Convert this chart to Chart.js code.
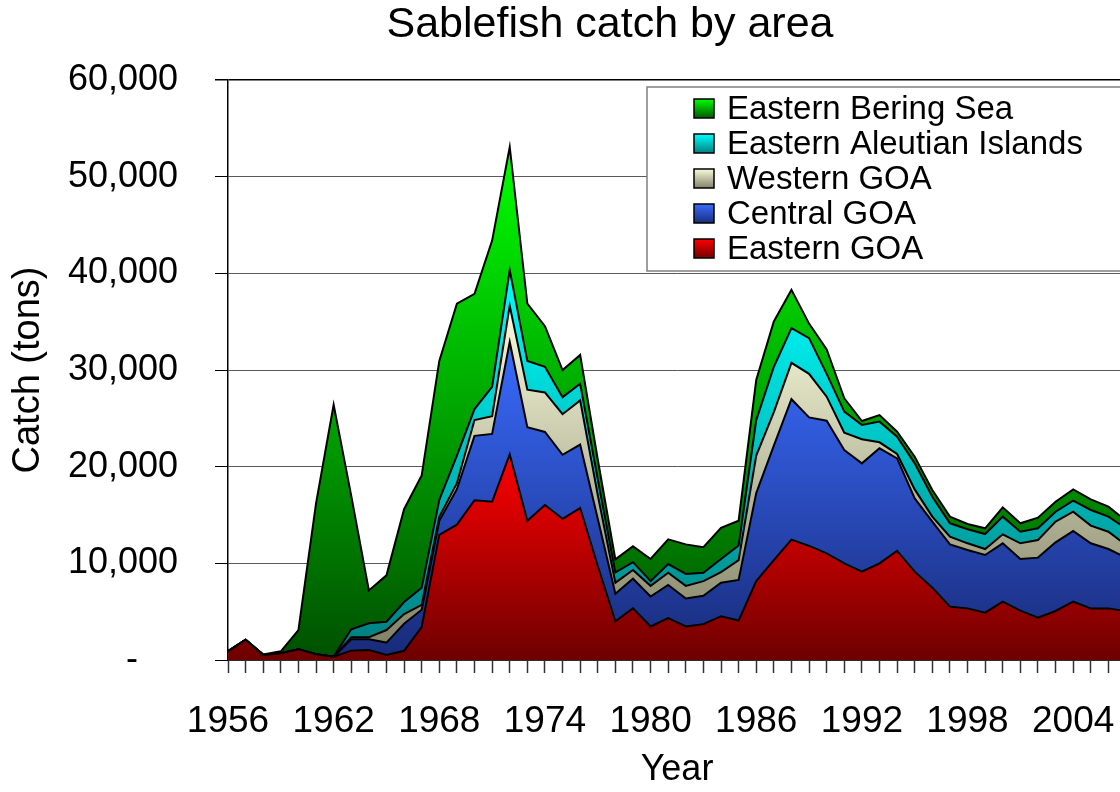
<!DOCTYPE html>
<html>
<head>
<meta charset="utf-8">
<title>Sablefish catch by area</title>
<script src="https://cdn.jsdelivr.net/npm/chart.js@4.4.1/dist/chart.umd.min.js"></script>
<style>
  html, body { margin: 0; padding: 0; background: #fff; overflow: hidden; }
  #wrap { width: 1220px; height: 792px; }
</style>
</head>
<body>
<div id="wrap"><canvas id="catchChart"></canvas></div>
<script>
const chartTitle = "Sablefish catch by area";

// Years on the x axis
const years = [1956, 1957, 1958, 1959, 1960, 1961, 1962, 1963, 1964, 1965,
  1966, 1967, 1968, 1969, 1970, 1971, 1972, 1973, 1974, 1975,
  1976, 1977, 1978, 1979, 1980, 1981, 1982, 1983, 1984, 1985,
  1986, 1987, 1988, 1989, 1990, 1991, 1992, 1993, 1994, 1995,
  1996, 1997, 1998, 1999, 2000, 2001, 2002, 2003, 2004, 2005,
  2006, 2007];

// Years that get a tick label
const labelledYears = [1956, 1962, 1968, 1974, 1980, 1986, 1992, 1998, 2004];

// Catch (tons) per area, stacked bottom to top
const easternGOA = [900, 2100, 530, 700, 1100, 600, 350, 970, 1030, 520,
  950, 3400, 12950, 14000, 16530, 16370, 21270, 14400, 16040, 14610,
  15720, 9720, 4000, 5350, 3470, 4330, 3470, 3710, 4530, 4080,
  8160, 10330, 12450, 11800, 11030, 10000, 9140, 10000, 11280, 9140,
  7480, 5520, 5340, 4900, 6030, 5100, 4380, 5070, 6030, 5340,
  5340, 5050];
const centralGOA = [0, 0, 0, 0, 0, 0, 0, 1180, 1120, 1280,
  2800, 1800, 1450, 3670, 6660, 7020, 11630, 9680, 7550, 6620,
  6570, 4890, 2860, 3060, 3100, 3430, 2900, 2940, 3470, 4210,
  9110, 11840, 14530, 13300, 13730, 11720, 11200, 11900, 9580, 7580,
  6830, 6440, 6040, 5960, 6040, 5350, 6210, 7100, 7310, 6730,
  6140, 5550];
const westernGOA = [0, 0, 0, 0, 0, 0, 0, 200, 200, 1300,
  1000, 500, 420, 620, 1630, 1840, 3750, 3880, 4090, 4200,
  4570, 2450, 1140, 900, 1100, 1260, 1300, 1510, 1100, 2040,
  3880, 3470, 3760, 4500, 2480, 1800, 2490, 620, 450, 930,
  520, 800, 690, 620, 930, 1620, 1820, 2140, 2000, 1830,
  1790, 1300];
const aleutianIslands = [0, 0, 0, 0, 0, 0, 0, 830, 1450, 860,
  1250, 1780, 1750, 2860, 1140, 3020, 3680, 2980, 2650, 1760,
  1710, 1640, 1060, 810, 490, 900, 1230, 860, 1350, 1510,
  3670, 4690, 3590, 3700, 2360, 2170, 1480, 2140, 1790, 2690,
  2060, 1380, 1450, 1550, 1830, 1200, 1210, 1030, 1140, 1620,
  1560, 1700];
const beringSea = [0, 0, 30, 200, 2000, 15600, 26050, 13800, 3400, 4800,
  9600, 11620, 14370, 15710, 11920, 15140, 12740, 5920, 4200, 2810,
  2980, 2040, 1350, 1640, 2290, 2570, 3060, 2650, 3220, 2570,
  4160, 4690, 3960, 1500, 2530, 1380, 410, 680, 520, 690,
  700, 690, 550, 590, 960, 870, 1100, 1040, 1170, 1100,
  1030, 800];

const FONT = '"Liberation Sans", Arial, sans-serif';

// series in stacking order, with [bottom, top] gradient colours
const series = [
  { label: "Eastern GOA", data: easternGOA, colors: ["#6e0000", "#ff0000"] },
  { label: "Central GOA", data: centralGOA, colors: ["#182a78", "#3a6cff"] },
  { label: "Western GOA", data: westernGOA, colors: ["#7c7c62", "#fafadc"] },
  { label: "Eastern Aleutian Islands", data: aleutianIslands, colors: ["#007a7a", "#00ffff"] },
  { label: "Eastern Bering Sea", data: beringSea, colors: ["#005000", "#00ff00"] }
];

// highest stacked value reached by each series (gradient spans 0 .. that)
const stackTops = [];
let running = years.map(() => 0);
series.forEach((s) => {
  running = running.map((v, i) => v + s.data[i]);
  stackTops.push(Math.max(...running));
});

function areaFill(chart, idx) {
  const area = chart.chartArea;
  const s = series[idx];
  if (!area) return s.colors[1];
  const y = chart.scales.y;
  const g = chart.ctx.createLinearGradient(0, y.getPixelForValue(0), 0, y.getPixelForValue(stackTops[idx]));
  g.addColorStop(0, s.colors[0]);
  g.addColorStop(1, s.colors[1]);
  return g;
}

const datasets = series.map((s, i) => ({
  label: s.label,
  data: s.data,
  fill: i === 0 ? "origin" : "-1",
  backgroundColor: (ctx) => areaFill(ctx.chart, i),
  borderColor: "#000",
  borderWidth: 2,
  pointRadius: 0,
  tension: 0
}));

// title sits a bit right of the canvas centre, as in the original
const titlePlugin = {
  id: "chartTitle",
  afterDraw(chart) {
    const c = chart.ctx;
    c.save();
    c.font = "43px " + FONT;
    c.fillStyle = "#000";
    c.textAlign = "center";
    c.textBaseline = "alphabetic";
    c.fillText(chartTitle, 610, 37);
    c.restore();
  }
};

// legend in a white box inside the plot, top entry = top of the stack
const boxLegend = {
  id: "boxLegend",
  afterDraw(chart) {
    const c = chart.ctx;
    const x0 = 647, y0 = 87;
    c.save();
    c.fillStyle = "#fff";
    c.fillRect(x0, y0, 520, 184);
    c.strokeStyle = "#808080";
    c.lineWidth = 1.5;
    c.strokeRect(x0, y0, 520, 184);
    c.font = "33px " + FONT;
    c.textBaseline = "middle";
    c.textAlign = "left";
    series.slice().reverse().forEach((s, k) => {
      const cy = y0 + 22 + k * 35;
      const g = c.createLinearGradient(0, cy + 10, 0, cy - 10);
      g.addColorStop(0, s.colors[0]);
      g.addColorStop(1, s.colors[1]);
      c.fillStyle = g;
      c.fillRect(694, cy - 10, 20, 19);
      c.strokeStyle = "#000";
      c.lineWidth = 1.5;
      c.strokeRect(694, cy - 10, 20, 19);
      c.fillStyle = "#000";
      c.fillText(s.label, 727, cy + 1);
    });
    c.restore();
  }
};

new Chart(document.getElementById("catchChart"), {
  type: "line",
  data: { labels: years, datasets },
  plugins: [titlePlugin, boxLegend],
  options: {
    responsive: true,
    maintainAspectRatio: false,
    animation: false,
    events: [],
    layout: { padding: { left: 0, right: 94, top: 80, bottom: 0 } },
    plugins: {
      legend: { display: false },
      tooltip: { enabled: false },
      title: { display: false }
    },
    scales: {
      x: {
        type: "linear",
        min: 1956,
        max: 2007,
        afterFit: (scale) => { scale.height = 132; },
        afterBuildTicks: (scale) => {
          scale.ticks = scale.ticks.filter((t) => Number.isInteger(t.value));
        },
        ticks: {
          stepSize: 1,
          autoSkip: false,
          maxRotation: 0,
          padding: 27,
          color: "#000",
          font: { family: FONT, size: 37 },
          callback: (v) => (labelledYears.includes(v) ? String(v) : "")
        },
        grid: { drawOnChartArea: false, tickLength: 13, tickColor: "#333", tickWidth: 1.5 },
        border: { display: true, color: "#000", width: 1.5 },
        title: {
          display: true,
          text: "Year",
          color: "#000",
          font: { family: FONT, size: 36 },
          padding: { top: 0, bottom: 0 }
        }
      },
      y: {
        stacked: true,
        min: 0,
        max: 60000,
        afterFit: (scale) => { scale.width = 228; },
        ticks: {
          stepSize: 10000,
          padding: 37,
          color: "#000",
          font: { family: FONT, size: 36 },
          callback: (v) => (v === 0 ? "-    " : v.toLocaleString("en-US"))
        },
        grid: {
          color: (ctx) => (ctx.tick && ctx.tick.value === 60000 ? "#000" : "#5a5a5a"),
          lineWidth: (ctx) => (ctx.tick && ctx.tick.value === 60000 ? 1.5 : 1),
          tickLength: 13,
          tickColor: "#000"
        },
        border: { display: true, color: "#000", width: 1.5 },
        title: {
          display: true,
          text: "Catch (tons)",
          color: "#000",
          font: { family: FONT, size: 38 },
          padding: { top: 6, bottom: 0 }
        }
      }
    }
  }
});
</script>
</body>
</html>
